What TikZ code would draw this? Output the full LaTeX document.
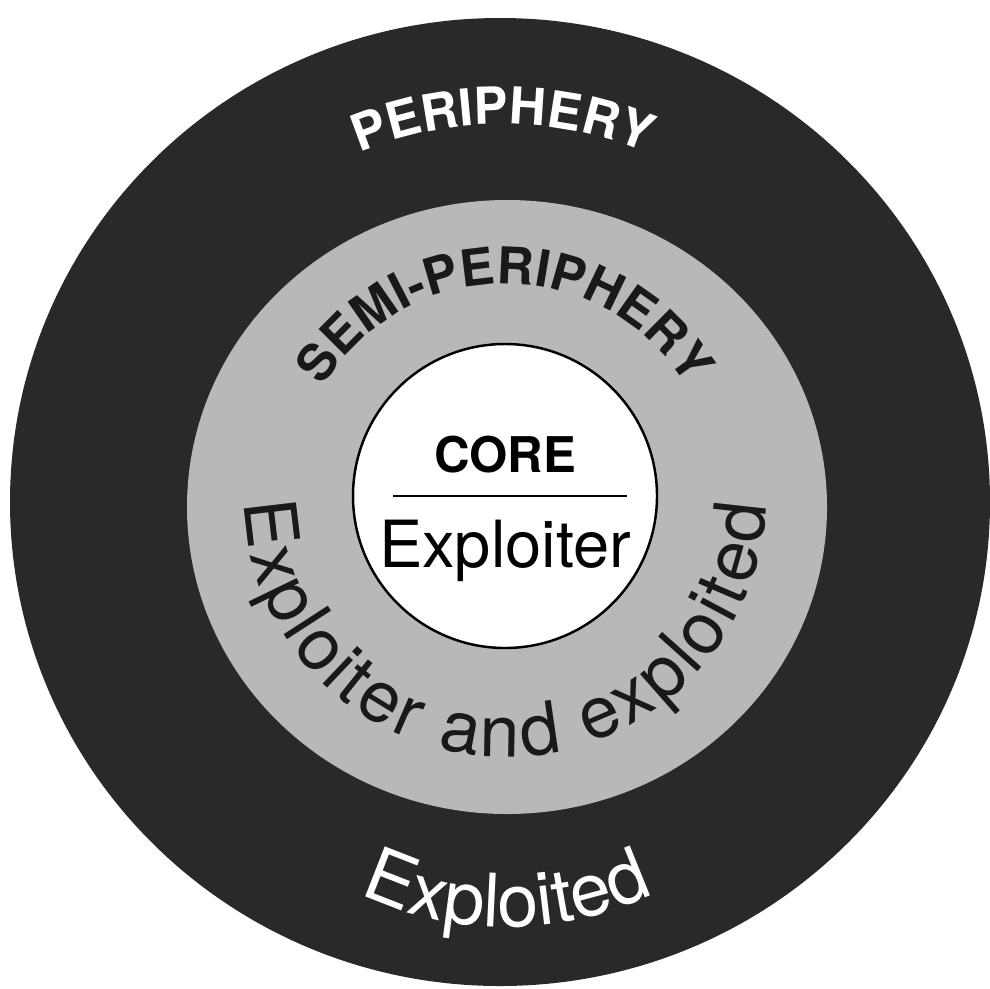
\documentclass[tikz,border=0pt]{standalone}
\usepackage{fontspec}
\setmainfont{TeX Gyre Heros}
\usetikzlibrary{decorations.text, calc}

\definecolor{periphery}{gray}{0.16}
\definecolor{semiperiphery}{gray}{0.72}

\newcommand\perifont{\fontsize{14.5pt}{14.5pt}\selectfont\bfseries\color{white}}
\newcommand\semifont{\fontsize{14.5pt}{14.5pt}\selectfont\bfseries\color{black!90}}
\newcommand\ringfont{\fontsize{20.5pt}{20.5pt}\selectfont\color{black!90}}
\newcommand\exploitedfont{\fontsize{21pt}{21pt}\selectfont\color{white}}

\begin{document}
\begin{tikzpicture}[x=0.1mm, y=0.1mm,
    curved/.style={decorate, decoration={text along path, text align=center, text={#1}}}]
    \useasboundingbox (0,0) rectangle (990,988);
    % rings
    \fill[periphery] (500,486) ellipse [x radius=490, y radius=484];
    \fill[semiperiphery] (507,481) ellipse [x radius=320, y radius=307];
    \coordinate (core) at (505,492);
    \draw[line width=0.7pt, fill=white] (core) circle [radius=152];
    % core label
    \node[font=\fontsize{14pt}{14pt}\selectfont\bfseries, anchor=base] (corename) at (505,516) {CORE};
    \node[font=\fontsize{18.5pt}{18.5pt}\selectfont, anchor=base] (coreword) at (505,421) {Exploiter};
    \coordinate (rule l) at (393,492);
    \coordinate (rule r) at (627,492);
    \draw[line width=0.6pt] (rule l) -- (rule r);
    % curved labels
    \coordinate (peri c) at (503,494);
    \coordinate (expl c) at (507,403);
    \path[curved={|\perifont|PERIPHERY}] ($(peri c)+(125:370)$) arc[start angle=125, end angle=55, radius=370];
    \path[curved={|\semifont|SEMI-PERIPHERY}] ($(core)+(170:212)$) arc[start angle=170, end angle=10, radius=212];
    \path[decorate, decoration={text along path, text align={fit to path}, text={|\ringfont|Exploiter and exploited}}]
        ($(core)+(181.5:261)$) arc[start angle=181.5, end angle=358, radius=261];
    \path[curved={|\exploitedfont|Exploited}] ($(expl c)+(235:342)$) arc[start angle=235, end angle=305, radius=342];
\end{tikzpicture}
\end{document}
